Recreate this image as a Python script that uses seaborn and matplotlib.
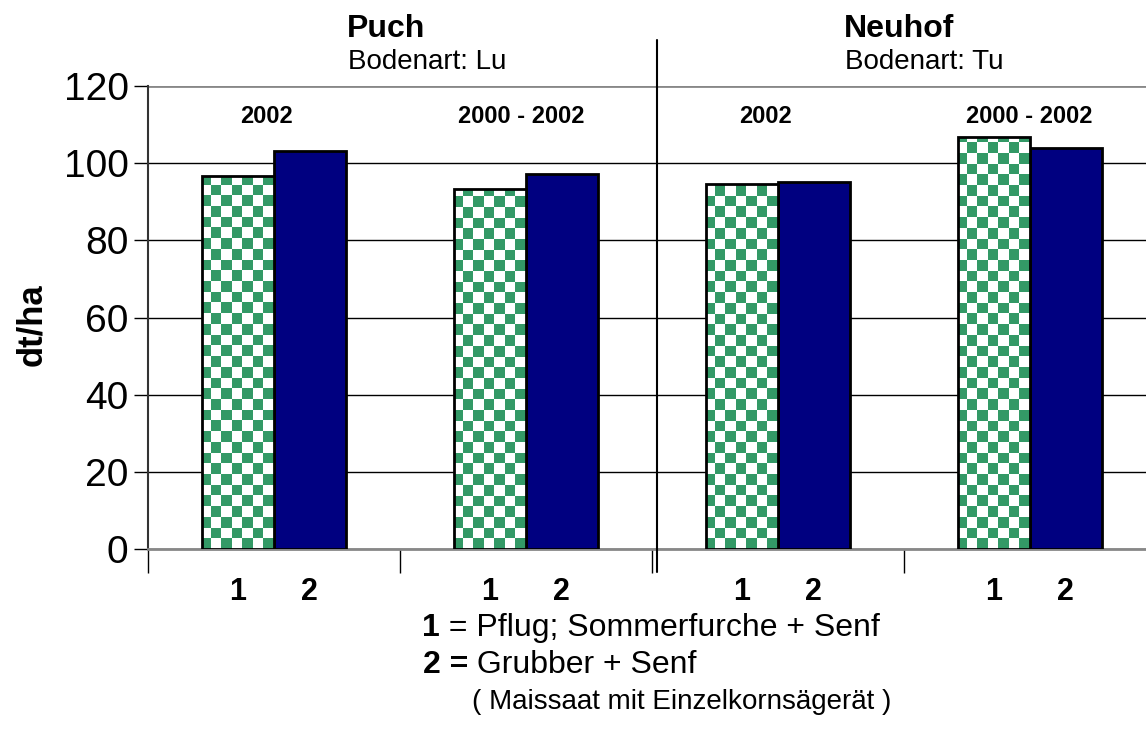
import numpy as np
import pandas as pd
import matplotlib
matplotlib.use("Agg")
import matplotlib.pyplot as plt
import seaborn as sns
from matplotlib.lines import Line2D
from matplotlib.colors import ListedColormap

# ---- data ----
groups = ["Puch 2002", "Puch 2000-2002", "Neuhof 2002", "Neuhof 2000-2002"]
period_labels = ["2002", "2000 - 2002", "2002", "2000 - 2002"]
variants = ["1", "2"]
values_v1 = [96.7, 93.3, 94.5, 106.9]
values_v2 = [103.2, 97.2, 95.2, 103.9]
sites = ["Puch", "Neuhof"]
soils = ["Bodenart: Lu", "Bodenart: Tu"]
yticks = [0, 20, 40, 60, 80, 100, 120]

df = pd.DataFrame({
    "group": groups * 2,
    "variant": ["1"] * 4 + ["2"] * 4,
    "value": values_v1 + values_v2,
})

sns.set_theme(style="white")
plt.rcParams["font.family"] = ["Liberation Sans", "DejaVu Sans"]
plt.rcParams["text.color"] = "black"
plt.rcParams["axes.labelcolor"] = "black"
plt.rcParams["xtick.color"] = "black"
plt.rcParams["ytick.color"] = "black"

fig = plt.figure(figsize=(11.46, 7.31), dpi=100)
W, H = 1146, 731
ax = fig.add_axes([148 / W, (H - 549) / H, (1156 - 148) / W, (549 - 86) / H])

GREEN = "#339966"
NAVY = "#000080"
sns.barplot(data=df, x="group", y="value", hue="variant", order=groups,
            hue_order=variants, palette={"1": "white", "2": NAVY},
            width=0.57, gap=0, dodge=True, edgecolor="black", linewidth=2,
            saturation=1, legend=False, ax=ax, zorder=3)

ax.set_xlim(-0.5, 3.5)
ax.set_ylim(0, 120)

# checkerboard fill for variant 1 bars
nx, ny = 96, 44
checker = (np.add.outer(np.arange(ny), np.arange(nx)) % 2).astype(float)
cmap = ListedColormap(["white", GREEN])
bars = sorted(ax.patches, key=lambda p: p.get_x())
bars_v1 = bars[0::2]
for p in bars_v1:
    im = ax.imshow(checker, cmap=cmap, extent=[-0.5, 3.5, 0, 120 * ny / 43.3],
                   origin="lower", interpolation="nearest", aspect="auto", zorder=3.5)
    im.set_clip_path(p)
    p.set_zorder(4)
    p.set_facecolor("none")
ax.set_xlim(-0.5, 3.5)
ax.set_ylim(0, 120)
ax.set_aspect("auto")

# grid / y axis
ax.set_yticks(yticks)
ax.set_yticklabels([str(v) for v in yticks], fontsize=28)
ax.grid(axis="y", color="black", lw=1, zorder=0)
gl = ax.get_ygridlines()
gl[-1].set_color("#888888")
gl[-1].set_linewidth(2)
ax.tick_params(axis="y", which="major", direction="out", length=10, width=1,
               color="black", pad=4, left=True)

# x ticks: labels at bar centres, minor ticks at group boundaries
centers = [p.get_x() + p.get_width() / 2 for p in bars]
labels = [variants[i % 2] for i in range(len(centers))]
ax.set_xticks(centers)
ax.set_xticklabels(labels, fontsize=22, fontweight="bold")
ax.tick_params(axis="x", which="major", length=0, pad=20)
ax.set_xticks([i - 0.5 for i in range(len(groups))], minor=True)
ax.tick_params(axis="x", which="minor", direction="out", length=17, width=1,
               color="black", bottom=True)
ax.set_xlabel("")
ax.set_ylabel("dt/ha", fontsize=25, fontweight="bold")
ax.yaxis.set_label_coords((48 - 148) / (1156 - 148), (549 - 325) / (549 - 86))

for s in ["top", "right"]:
    ax.spines[s].set_visible(False)
ax.spines["left"].set_color("#333333")
ax.spines["left"].set_linewidth(1.5)
ax.spines["bottom"].set_color("#888888")
ax.spines["bottom"].set_linewidth(2)

# period labels (small horizontal shifts as in the original layout)
label_shift = [-0.03, -0.02, -0.05, -0.004]
for i, lab in enumerate(period_labels):
    ax.text(i + label_shift[i], 110.4, lab, ha="center", va="baseline",
            fontsize=17, fontweight="bold")

# site titles
site_x = [347, 844]
for sx, name, soil in zip(site_x, sites, soils):
    fig.text(sx / W, 1 - 37 / H, name, ha="left", va="baseline", fontsize=23, fontweight="bold")
    fig.text((sx + 1) / W, 1 - 69 / H, soil, ha="left", va="baseline", fontsize=20)

# divider
fig.add_artist(Line2D([657 / W, 657 / W], [1 - 40 / H, 1 - 572 / H], color="black", lw=1.5))

# legend text
def mixed(x, y, bold, rest, size):
    t = fig.text(x / W, 1 - y / H, bold, ha="left", va="baseline", fontsize=size, fontweight="bold")
    fig.canvas.draw()
    bb = t.get_window_extent()
    fig.text(bb.x1 / W, 1 - y / H, rest, ha="left", va="baseline", fontsize=size)

mixed(422, 636, "1", " = Pflug; Sommerfurche + Senf", 23)
mixed(423, 673, "2 =", " Grubber + Senf", 23)
fig.text(472 / W, 1 - 709 / H, "( Maissaat mit Einzelkornsägerät )", ha="left", va="baseline", fontsize=20)

fig.savefig("out.png", dpi=100)
